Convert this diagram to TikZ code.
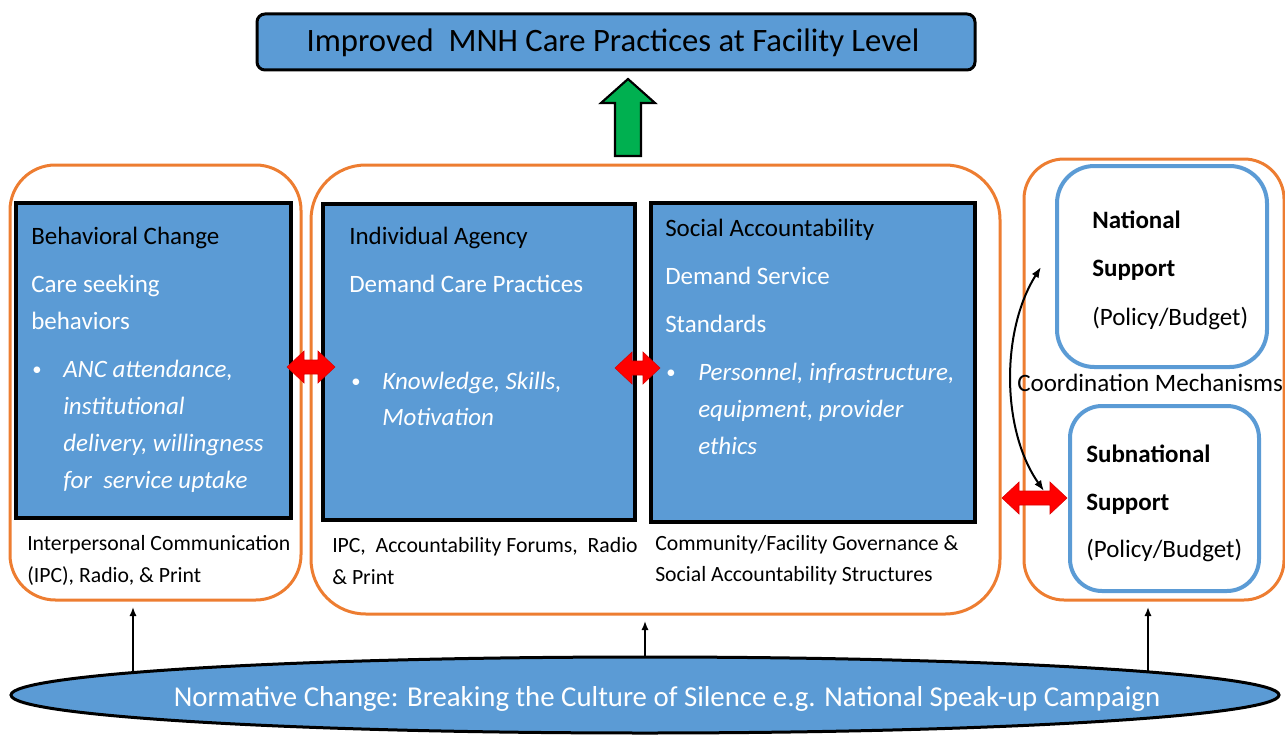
\documentclass[tikz,border=0pt]{standalone}
\usepackage{fontspec}
\setmainfont{Carlito}
\usetikzlibrary{fit,shapes.geometric,arrows.meta,calc}
\definecolor{panelblue}{HTML}{5B9BD5}
\definecolor{zoneorange}{HTML}{ED7D31}
\definecolor{upgreen}{HTML}{00B050}
\newcommand\fTitle{\fontsize{24.5}{29}\selectfont}
\newcommand\fBody{\fontsize{18.75}{22}\selectfont}
\newcommand\fNote{\fontsize{16.3}{20}\selectfont}
\newcommand\fOval{\fontsize{21.6}{26}\selectfont}
\newcommand\fDot{\fontsize{14}{16}\selectfont}

\begin{document}
\begin{tikzpicture}[x=0.75pt,y=-0.75pt,
  zone/.style={draw=zoneorange, line width=2.25pt, rounded corners=#1, inner sep=0pt},
  panel/.style={draw=black, fill=panelblue, line width=2.6pt, inner sep=0pt},
  govbox/.style={draw=panelblue, fill=white, line width=3pt, rounded corners=#1, inner sep=0pt},
  ln/.style={anchor=base west, inner sep=0pt, font=\fBody},
  hd/.style={ln, text=black},
  wt/.style={ln, text=white},
  it/.style={ln, text=white, font=\fBody\itshape},
  dot/.style={anchor=base west, inner sep=0pt, text=white, font=\fDot},
  bd/.style={ln, text=black, font=\fBody\bfseries},
  nt/.style={anchor=base west, inner sep=0pt, font=\fNote, text=black},
  rise/.style={draw=black, line width=1.4pt, -{Latex[length=7pt,width=5.5pt]}, shorten >=4pt},
  redlink/.pic={\filldraw[fill=red, draw=red!85!black, line width=0.4pt]
      (-#1,0) -- (-#1+17,-16) -- (-#1+17,-7) -- (#1-17,-7) -- (#1-17,-16) -- (#1,0)
      -- (#1-17,16) -- (#1-17,7) -- (-#1+17,7) -- (-#1+17,16) -- cycle;}
]
\useasboundingbox (0,0) rectangle (1285,735);
\clip (0,0) rectangle (1285,735);

% outcome at the top
\node[panel, line width=2.25pt, rounded corners=6pt, fit={(257,14) (975,70)}] (title) {};
\node[anchor=base, inner sep=0pt, font=\fTitle] (titletext) at (613,52) {Improved~ MNH Care Practices at Facility Level};

% orange grouping frames
\node[zone=34pt, fit={(10,165) (301,600)}] (z1) {};
\node[zone=41pt, fit={(311,165) (1000,614)}] (z2) {};
\node[zone=30pt, fit={(1024,159) (1284,600)}] (z3) {};

% blue pathway panels
\node[panel, fit={(16,203) (291,518)}] (p1) {};
\node[panel, fit={(323,204) (635,520)}] (p2) {};
\node[panel, fit={(651,203) (975,522)}] (p3) {};

% support levels
\node[govbox=28pt, fit={(1057,166) (1267,367)}] (nat) {};
\node[govbox=24pt, fit={(1070,406) (1259,591)}] (sub) {};

% panel 1
\node[hd] (p1a) at (31,244) {Behavioral Change};
\node[wt] (p1b) at (31,292) {Care seeking};
\node[wt] (p1c) at (31,329) {behaviors};
\node[dot] (p1d) at (32,375) {•};
\node[it] (p1e) at (63,377) {ANC attendance,};
\node[it] (p1f) at (63,414) {institutional};
\node[it] (p1g) at (63,451) {delivery, willingness};
\node[it] (p1h) at (63,488) {for~ service uptake};
\node[nt] (p1i) at (27,550) {Interpersonal Communication};
\node[nt] (p1j) at (27,582) {(IPC), Radio, \& Print};

% panel 2
\node[hd] (p2a) at (349,244) {Individual Agency};
\node[wt] (p2b) at (349,292) {Demand Care Practices};
\node[dot] (p2c) at (351,387) {•};
\node[it] (p2d) at (382,389) {Knowledge, Skills,};
\node[it] (p2e) at (382,425) {Motivation};
\node[nt] (p2f) at (332,552) {IPC,~ Accountability Forums,~ Radio};
\node[nt] (p2g) at (332,584) {\& Print};

% panel 3
\node[hd] (p3a) at (665,236) {Social Accountability};
\node[wt] (p3b) at (665,284) {Demand Service};
\node[wt] (p3c) at (665,332) {Standards};
\node[dot] (p3d) at (666,378) {•};
\node[it] (p3e) at (698,380) {Personnel, infrastructure,};
\node[it] (p3f) at (698,417) {equipment, provider};
\node[it] (p3g) at (698,454) {ethics};
\node[nt] (p3h) at (655,550) {Community/Facility Governance \&};
\node[nt] (p3i) at (655,581) {Social Accountability Structures};

% support texts
\node[bd] (nat1) at (1092,228) {National};
\node[bd] (nat2) at (1092,276) {Support};
\node[hd] (nat3) at (1092,325) {(Policy/Budget)};
\node[bd] (sub1) at (1086,462) {Subnational};
\node[bd] (sub2) at (1086,510) {Support};
\node[hd] (sub3) at (1086,557) {(Policy/Budget)};
\node[hd] (coord) at (1017,391) {Coordination Mechanisms};

% two-way links between panels
\pic at (311,367) {redlink=24};
\pic at (637.5,368) {redlink=22.5};
\pic at (1034.5,498) {redlink=32.5};

% coordination between national and subnational levels
\coordinate (cTop) at (1041,267);
\coordinate (cBot) at (1044,491);
\draw[line width=1.5pt, {Latex[length=8pt,width=6pt]}-{Latex[length=8pt,width=6pt]}]
  (cTop) .. controls (1001,330) and (1001,430) .. (cBot);

% upward block arrow to the outcome
\filldraw[fill=upgreen, draw=black, line width=1.6pt, line join=miter]
  (628,79) -- (655,103) -- (641,103) -- (641,156) -- (615,156) -- (615,103) -- (601,103) -- cycle;

% normative change base
\node[draw=black, fill=panelblue, ellipse, line width=2.25pt, inner sep=0pt,
      minimum width={1268*0.75pt}, minimum height={76*0.75pt}] (oval) at (645,695) {};
\node[anchor=base, inner sep=0pt, font=\fOval, text=white] (ovaltext) at (667,706)
  {Normative Change: Breaking the Culture of Silence e.g. National Speak-up Campaign};

\coordinate (f1) at (133,672.5);
\coordinate (f3) at (1148,672);
\draw[rise] (f1) -- (f1 |- z1.south);
\draw[rise] (oval.north) -- (oval.north |- z2.south);
\draw[rise] (f3) -- (f3 |- z3.south);
\end{tikzpicture}
\end{document}
